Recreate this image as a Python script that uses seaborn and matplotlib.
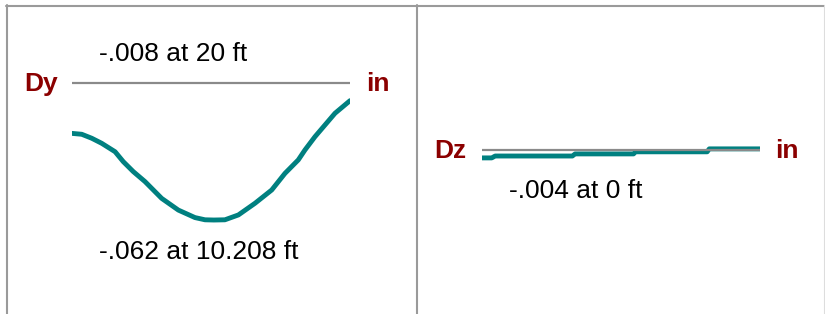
import matplotlib
matplotlib.use("Agg")
import matplotlib.pyplot as plt
import pandas as pd
import seaborn as sns
from matplotlib.lines import Line2D

# ---------------- data ----------------
dy_ft = [0.0, 0.7, 1.42, 2.14, 3.1, 3.69, 4.41, 5.25, 6.45, 7.65, 8.85, 9.57, 10.208,
         11.0, 11.97, 13.17, 14.37, 15.32, 16.28, 16.76, 17.48, 18.2, 18.92, 20.0]
dy_in = [-0.0228, -0.0232, -0.0250, -0.0273, -0.0311, -0.0356, -0.0401, -0.0446,
         -0.0522, -0.0575, -0.0609, -0.0619, -0.0620, -0.0619, -0.0597, -0.0544,
         -0.0484, -0.0409, -0.0348, -0.0303, -0.0243, -0.0190, -0.0137, -0.0080]
dz_ft = [0.0, 0.7, 0.95, 6.5, 6.7, 10.9, 11.05, 16.2, 16.35, 20.0]
dz_in = [-0.0040, -0.0040, -0.0031, -0.0031, -0.0021, -0.0021, -0.0011, -0.0011, 0.0003, 0.0003]

panel_names = ["Dy", "Dz"]
unit_label = "in"
note_dy_top = "-.008 at 20 ft"
note_dy_bottom = "-.062 at 10.208 ft"
note_dz_bottom = "-.004 at 0 ft"

# ---------------- style ----------------
sns.set_theme(style="white")
plt.rcParams["font.family"] = ["Liberation Sans", "DejaVu Sans"]

W, H = 825, 314
fig = plt.figure(figsize=(W / 100, H / 100), dpi=100)
fig.patch.set_facecolor("white")

TEAL = "#008080"
GREY = "#8a8a8a"
MAROON = "#8b0000"
FS = 19


def px_axes(x0, x1, y_zero, k):
    top, bot = 10, 305
    ax = fig.add_axes([x0 / W, 1 - bot / H, (x1 - x0) / W, (bot - top) / H])
    ax.set_xlim(0, 20)
    ax.set_ylim(-(bot - y_zero) / k, (y_zero - top) / k)
    ax.axis("off")
    return ax


def ftext(x, y, s, **kw):
    fig.text(x / W, 1 - y / H, s, fontsize=FS, **kw)


# left panel: Dy
ax1 = px_axes(72, 350, 83, 2210)
sns.lineplot(data=pd.DataFrame({"ft": dy_ft, "in": dy_in}), x="ft", y="in", ax=ax1,
             color=TEAL, lw=3.5, solid_capstyle="round", solid_joinstyle="round", zorder=2)
ax1.axhline(0, color=GREY, lw=1.6, zorder=3)

# right panel: Dz
ax2 = px_axes(482, 760, 149.5, 2100)
sns.lineplot(data=pd.DataFrame({"ft": dz_ft, "in": dz_in}), x="ft", y="in", ax=ax2,
             color=TEAL, lw=3.5, solid_capstyle="round", solid_joinstyle="round", zorder=2)
ax2.axhline(0, color=GREY, lw=1.6, zorder=3)

# labels
ftext(99, 61, note_dy_top, ha="left", va="baseline", color="black")
ftext(99, 259, note_dy_bottom, ha="left", va="baseline", color="black")
ftext(24, 91, panel_names[0], ha="left", va="baseline", color=MAROON, fontweight="bold")
ftext(366, 91, unit_label, ha="left", va="baseline", color=MAROON, fontweight="bold")
ftext(509, 198, note_dz_bottom, ha="left", va="baseline", color="black")
ftext(434, 158, panel_names[1], ha="left", va="baseline", color=MAROON, fontweight="bold")
ftext(775, 158, unit_label, ha="left", va="baseline", color=MAROON, fontweight="bold")

# panel borders
BC = "#9a9a9a"
def fline(xs, ys, lw=1.5, c=BC):
    fig.add_artist(Line2D([x / W for x in xs], [1 - y / H for y in ys],
                          color=c, lw=lw, transform=fig.transFigure))

fline([6, 825], [5.5, 5.5])
fline([6.5, 6.5], [5, 314])
fline([416.5, 416.5], [5, 314])
fline([823.5, 823.5], [5, 314], lw=0.8, c="#dddddd")

fig.savefig("out.png", dpi=100, facecolor="white")
